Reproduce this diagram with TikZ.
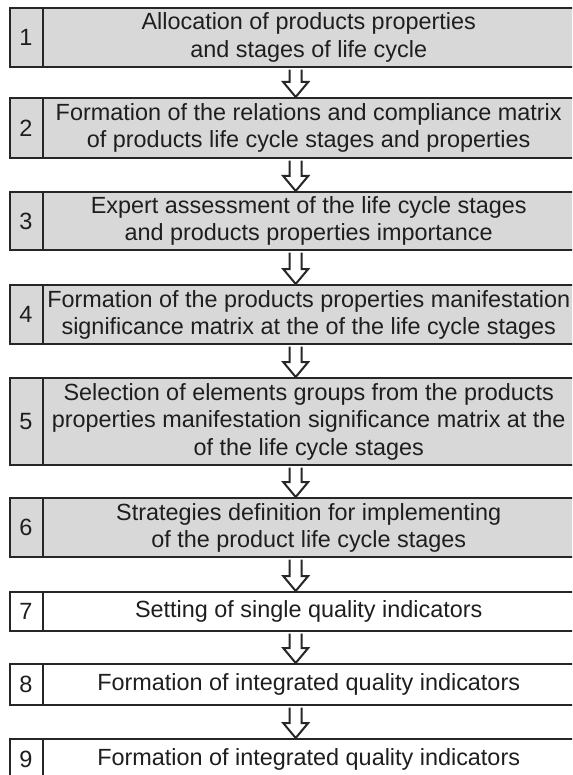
\documentclass[tikz,border=0pt]{standalone}
\usepackage{fontspec}
\setmainfont{Liberation Sans}
\usetikzlibrary{calc}
\definecolor{boxgray}{RGB}{216,216,216}
\definecolor{edge}{RGB}{38,38,38}
\definecolor{ink}{RGB}{30,30,30}
\newcommand\stepnode[6]{%
  \node[#4, minimum height={#3-#2}] (#1) at (9,-#2) {};
  \draw[divider] ($(#1.north west)+(34pt,0)$) -- ($(#1.south west)+(34pt,0)$);
  \node[numtext] (#1n) at ($(#1.west)+(17pt,0)$) {#5};
  \node[steptext] (#1t) at ($(#1.center)+(13pt,0)$) {#6};
}
\newcommand\hollowarrow[2]{%
  \draw[arrowline] let \p1=(#1.south), \p2=(#2.north) in
   (\x1-6pt,\y1-1.2pt) -- (\x1-6pt,\y2+15pt) -- (\x1-12.5pt,\y2+15pt) -- (\x1,\y2)
   -- (\x1+12.5pt,\y2+15pt) -- (\x1+6pt,\y2+15pt) -- (\x1+6pt,\y1-1.2pt);
}
\begin{document}
\begin{tikzpicture}[x=1pt,y=1pt,
  stepbox/.style={draw=edge, line width=2.4pt, fill=boxgray, minimum width=571pt, inner sep=0pt, anchor=north west},
  whitebox/.style={stepbox, fill=white},
  divider/.style={draw=edge, line width=2.4pt},
  numtext/.style={font=\fontsize{23.5}{27.5}\selectfont, text=ink, inner sep=0pt},
  steptext/.style={font=\fontsize{23.4}{27.5}\selectfont, text=ink, align=center, inner sep=0pt},
  arrowline/.style={draw=edge, line width=2pt, fill=white, line join=miter}]
\clip (0,0) rectangle (572,-775);
\fill[white] (0,0) rectangle (572,-775);
\stepnode{b1}{7}{66}{stepbox}{1}{Allocation of products properties\\and stages of life cycle}
\stepnode{b2}{97}{157}{stepbox}{2}{Formation of the relations and compliance matrix\\of products life cycle stages and properties}
\stepnode{b3}{191}{249}{stepbox}{3}{Expert assessment of the life cycle stages\\and products properties importance}
\stepnode{b4}{284}{343}{stepbox}{4}{Formation of the products properties manifestation\\significance matrix at the of the life cycle stages}
\stepnode{b5}{377}{464}{stepbox}{5}{Selection of elements groups from the products\\properties manifestation significance matrix at the\\of the life cycle stages}
\stepnode{b6}{497}{556}{stepbox}{6}{Strategies definition for implementing\\of the product life cycle stages}
\stepnode{b7}{591}{630}{whitebox}{7}{Setting of single quality indicators}
\stepnode{b8}{663}{704}{whitebox}{8}{Formation of integrated quality indicators}
\stepnode{b9}{738}{779}{whitebox}{9}{Formation of integrated quality indicators}
\hollowarrow{b1}{b2}
\hollowarrow{b2}{b3}
\hollowarrow{b3}{b4}
\hollowarrow{b4}{b5}
\hollowarrow{b5}{b6}
\hollowarrow{b6}{b7}
\hollowarrow{b7}{b8}
\hollowarrow{b8}{b9}
\end{tikzpicture}
\end{document}
